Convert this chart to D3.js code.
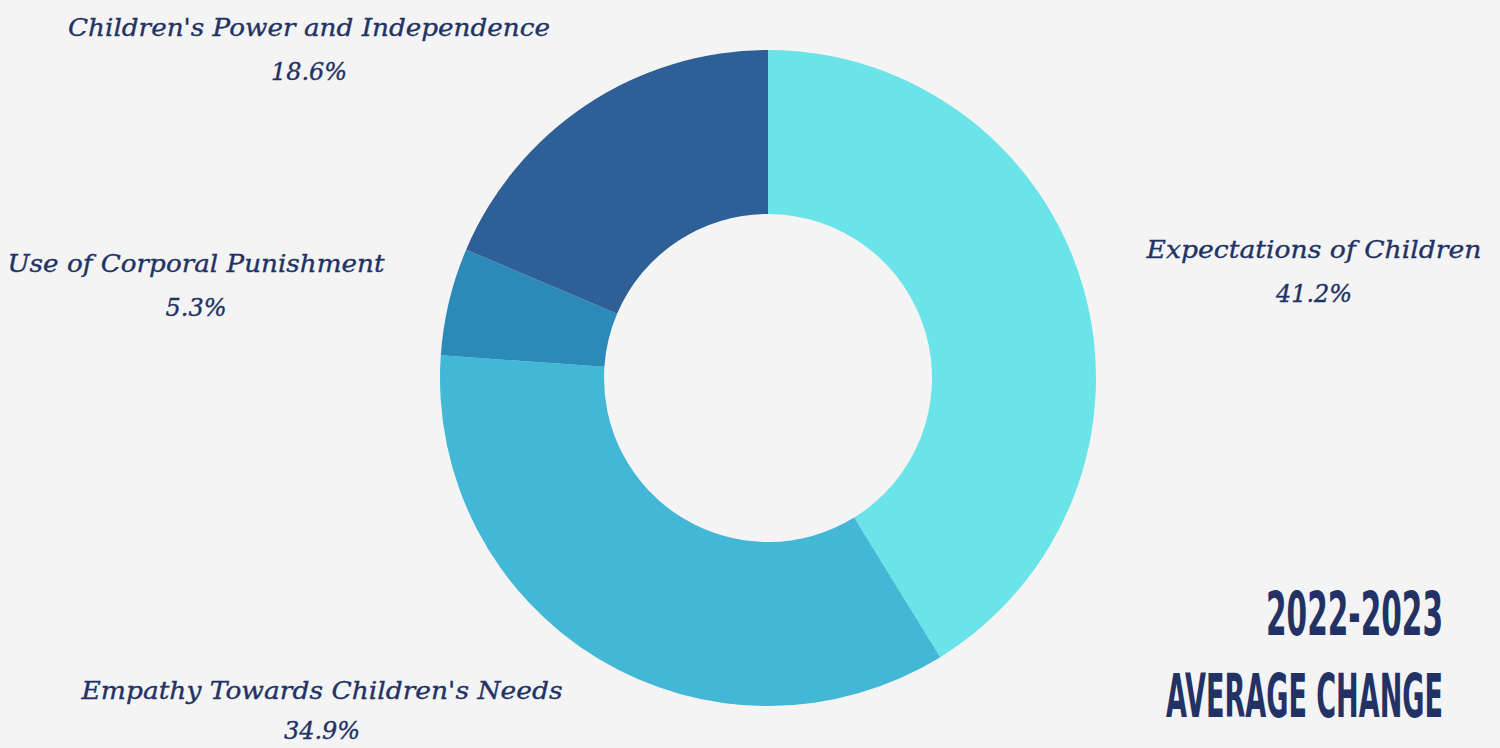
<!DOCTYPE html>
<html>
<head>
<meta charset="utf-8">
<script src="https://cdn.jsdelivr.net/npm/d3@7"></script>
<style>
  html, body { margin: 0; padding: 0; background: #f4f4f4; }
  svg { display: block; }
</style>
</head>
<body>
<svg id="chart" width="1500" height="748"></svg>
<script>
// slices, clockwise from 12 o'clock
var categories = ['Expectations of Children', "Empathy Towards Children's Needs", 'Use of Corporal Punishment', "Children's Power and Independence"]
var values = [41.2, 34.9, 5.3, 18.6]
var sliceColors = ['#6ae4e8', '#42b7d6', '#2c8ab8', '#2e6097']
var titleLines = ['2022-2023', 'AVERAGE CHANGE']

var width = 1500
var height = 748
var cx = 768
var cy = 378
var outerR = 328
var innerR = 164
var navy = '#223264'

// label placement: [centre x, baseline y, text width, gap to the % line]
var labelPos = [
    [1314, 258, 335, 44],
    [322, 699, 481, 40],
    [196, 272, 377, 44],
    [309, 36, 482, 44]
]

var svg = d3.select('#chart')

svg.append('rect')
    .attr('width', width)
    .attr('height', height)
    .style('fill', '#f4f4f4')

var pie = d3.pie().sort(null).value(function (d) { return d })
var arc = d3.arc().innerRadius(innerR).outerRadius(outerR)

var color = d3.scaleOrdinal().domain(categories).range(sliceColors)

svg.append('g')
    .attr('transform', 'translate(' + cx + ',' + cy + ')')
    .selectAll('path')
    .data(pie(values))
    .enter()
    .append('path')
    .attr('d', arc)
    .style('fill', function (d, i) { return color(categories[i]) })

var labels = svg.append('g')
    .style('font-family', '"DejaVu Serif", serif')
    .style('font-style', 'italic')
    .style('fill', navy)
    .style('stroke', navy)
    .style('stroke-width', 0.35)
    .attr('text-anchor', 'middle')

categories.forEach(function (name, i) {
    var p = labelPos[i]
    labels.append('text')
        .attr('x', p[0])
        .attr('y', p[1])
        .attr('textLength', p[2])
        .attr('lengthAdjust', 'spacingAndGlyphs')
        .style('font-size', '25px')
        .text(name)
    labels.append('text')
        .attr('x', p[0])
        .attr('y', p[1] + p[3])
        .style('font-size', '24px')
        .text(values[i].toFixed(1) + '%')
})

// bottom right title, squeezed horizontally to the condensed look
var titleWidths = [177, 277]
var titleBase = [635, 717]
svg.append('g')
    .selectAll('text')
    .data(titleLines)
    .enter()
    .append('text')
    .attr('text-anchor', 'end')
    .style('font-family', '"Liberation Sans Narrow", "DejaVu Sans Condensed", sans-serif')
    .style('font-weight', 'bold')
    .style('font-size', '60px')
    .style('fill', navy)
    .text(function (d) { return d })
    .attr('transform', function (d, i) {
        var w = this.getComputedTextLength()
        var k = titleWidths[i] / w
        return 'translate(1443,' + titleBase[i] + ') scale(' + k + ',1)'
    })
</script>
</body>
</html>
